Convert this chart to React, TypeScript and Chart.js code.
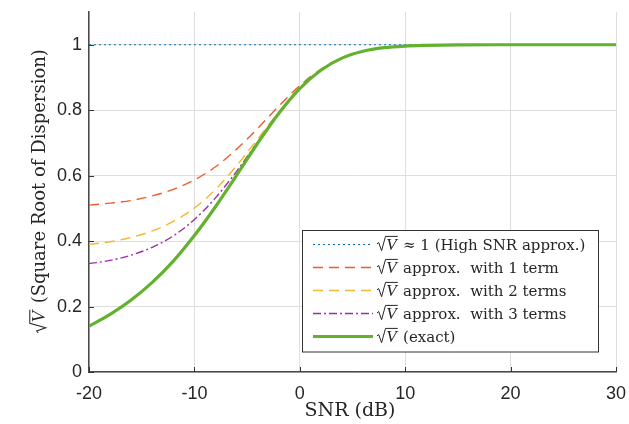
import React, { useEffect, useRef } from "react";
import { Chart, registerables } from "chart.js";

Chart.register(...registerables);

const snrDb = [-20, -18, -16, -14, -12, -10, -8, -6, -4, -2, 0, 2, 4, 6, 8, 10, 12, 15, 20, 25, 30];
const exactVals = [0.140, 0.176, 0.220, 0.274, 0.339, 0.417, 0.505, 0.601, 0.699, 0.790, 0.866, 0.922, 0.959, 0.980, 0.991, 0.996, 0.998, 0.9995, 1.0, 1.0, 1.0];
const approx1 = [0.510, 0.516, 0.524, 0.538, 0.558, 0.587, 0.627, 0.681, 0.744, 0.812, 0.875, 0.925, 0.960, 0.980, 0.991, 0.996, 0.998, 0.9995, 1.0, 1.0, 1.0];
const approx2 = [0.390, 0.398, 0.411, 0.431, 0.460, 0.501, 0.558, 0.630, 0.712, 0.794, 0.867, 0.922, 0.959, 0.980, 0.991, 0.996, 0.998, 0.9995, 1.0, 1.0, 1.0];
const approx3 = [0.331, 0.341, 0.357, 0.381, 0.416, 0.466, 0.532, 0.613, 0.703, 0.791, 0.866, 0.922, 0.959, 0.980, 0.991, 0.996, 0.998, 0.9995, 1.0, 1.0, 1.0];
const highSnr = snrDb.map(() => 1);
const xTicks = [-20, -10, 0, 10, 20, 30];
const yTicks = [0, 0.2, 0.4, 0.6, 0.8, 1];
const legendLabels = ["\u2248 1 (High SNR approx.)", "approx.  with 1 term", "approx.  with 2 terms", "approx.  with 3 terms", "(exact)"];

const COLORS = ["#0072BD", "#EF5B2B", "#F2B732", "#9B2FA8", "#62B22F"];
const DASHES: number[][] = [[2, 3], [10, 6], [10, 6], [8, 3, 2, 3], []];
const WIDTHS = [1.2, 1.4, 1.4, 1.4, 3.2];

const SERIF = '"DejaVu Serif", "Liberation Serif", serif';
const SANS = '"Liberation Sans", Arial, sans-serif';

function drawSqrtV(ctx: CanvasRenderingContext2D, x: number, y0: number, f: number, color: string): number {
  ctx.save();
  ctx.strokeStyle = color;
  ctx.fillStyle = color;
  ctx.lineWidth = Math.max(1, 0.055 * f);
  ctx.font = `italic ${f}px "Liberation Serif", serif`;
  const vw = ctx.measureText("V").width;
  const top = y0 - 0.8 * f;
  ctx.beginPath();
  ctx.moveTo(x, y0 - 0.36 * f);
  ctx.lineTo(x + 0.1 * f, y0 - 0.44 * f);
  ctx.lineTo(x + 0.27 * f, y0 + 0.04 * f);
  ctx.lineTo(x + 0.5 * f, top);
  ctx.lineTo(x + 0.56 * f + vw + 0.05 * f, top);
  ctx.stroke();
  ctx.textBaseline = "alphabetic";
  ctx.textAlign = "left";
  ctx.fillText("V", x + 0.54 * f, y0);
  ctx.restore();
  return 0.56 * f + vw + 0.08 * f;
}

const overlayPlugin = {
  id: "overlay",
  afterDatasetsDraw(chart: any) {
    const ctx: CanvasRenderingContext2D = chart.ctx;
    const xs = chart.scales.x;
    const ys = chart.scales.y;
    const area = chart.chartArea;
    ctx.save();
    // inward tick marks
    ctx.strokeStyle = "#333";
    ctx.lineWidth = 1;
    ctx.beginPath();
    xTicks.forEach((t) => {
      const px = Math.round(xs.getPixelForValue(t)) + 0.5;
      ctx.moveTo(px, area.bottom);
      ctx.lineTo(px, area.bottom - 5);
    });
    yTicks.forEach((t) => {
      const py = Math.round(ys.getPixelForValue(t)) + 0.5;
      ctx.moveTo(area.left, py);
      ctx.lineTo(area.left + 5, py);
    });
    ctx.stroke();

    // x-axis title
    ctx.fillStyle = "#262626";
    ctx.font = `19px ${SERIF}`;
    ctx.textAlign = "center";
    ctx.textBaseline = "alphabetic";
    ctx.fillText("SNR (dB)", 350, 416);

    // y-axis title
    ctx.save();
    ctx.translate(45, 191);
    ctx.rotate(-Math.PI / 2);
    ctx.font = `18px ${SERIF}`;
    const rest = " (Square Root of Dispersion)";
    const restW = ctx.measureText(rest).width;
    ctx.font = `italic 19px "Liberation Serif", serif`;
    const sqW = 0.64 * 19 + ctx.measureText("V").width;
    const sx = -(restW + sqW) / 2;
    const w = drawSqrtV(ctx, sx, 0, 19, "#262626");
    ctx.fillStyle = "#262626";
    ctx.font = `18px ${SERIF}`;
    ctx.textAlign = "left";
    ctx.fillText(rest, sx + w, 0);
    ctx.restore();

    // legend
    const bx = 302.5, by = 230.5, bw = 296, bh = 121.5;
    ctx.fillStyle = "#fff";
    ctx.fillRect(bx, by, bw, bh);
    ctx.strokeStyle = "#333";
    ctx.lineWidth = 1;
    ctx.strokeRect(bx, by, bw, bh);
    const rows = [244.5, 267.5, 290.5, 313.5, 336.5];
    rows.forEach((ry, i) => {
      ctx.save();
      ctx.strokeStyle = COLORS[i];
      ctx.lineWidth = WIDTHS[i];
      ctx.setLineDash(DASHES[i]);
      ctx.beginPath();
      ctx.moveTo(313, ry);
      ctx.lineTo(373, ry);
      ctx.stroke();
      ctx.restore();
      const base = ry + 5.5;
      const ww = drawSqrtV(ctx, 377, base, 17, "#262626");
      ctx.fillStyle = "#262626";
      ctx.font = `15px ${SERIF}`;
      ctx.textAlign = "left";
      ctx.textBaseline = "alphabetic";
      ctx.fillText(" " + legendLabels[i], 377 + ww, base);
    });
    ctx.restore();
  },
};

export default function App() {
  const ref = useRef<HTMLCanvasElement>(null);
  useEffect(() => {
    document.body.style.margin = "0";
    const mk = (vals: number[]) => snrDb.map((x, i) => ({ x, y: vals[i] }));
    const series = [highSnr, approx1, approx2, approx3, exactVals];
    const chart = new Chart(ref.current as HTMLCanvasElement, {
      type: "line",
      data: {
        datasets: series.map((vals, i) => ({
          label: legendLabels[i],
          data: mk(vals),
          borderColor: COLORS[i],
          borderWidth: WIDTHS[i],
          borderDash: DASHES[i],
          pointRadius: 0,
          fill: false,
          cubicInterpolationMode: "monotone" as const,
          order: 4 - i,
        })),
      },
      options: {
        animation: false,
        responsive: false,
        devicePixelRatio: 1,
        layout: { padding: { top: 12, right: 13, left: 0, bottom: 0 } },
        plugins: { legend: { display: false }, tooltip: { enabled: false } },
        scales: {
          x: {
            type: "linear",
            min: -20,
            max: 30,
            afterBuildTicks: (s: any) => {
              s.ticks = xTicks.map((v) => ({ value: v }));
            },
            afterFit: (s: any) => {
              s.height = 52;
              s.paddingLeft = 0;
              s.paddingRight = 0;
            },
            ticks: {
              font: { family: SANS, size: 18 },
              color: "#262626",
              padding: 11,
              maxRotation: 0,
              callback: (v: any) => String(v),
            },
            grid: { color: "#dedede", lineWidth: 1, drawTicks: false },
            border: { color: "#4a4a4a", width: 1.5 },
          },
          y: {
            type: "linear",
            min: 0,
            max: 1.1,
            afterBuildTicks: (s: any) => {
              s.ticks = yTicks.map((v) => ({ value: v }));
            },
            afterFit: (s: any) => {
              s.width = 89;
              s.paddingTop = 0;
              s.paddingBottom = 0;
            },
            ticks: {
              font: { family: SANS, size: 18 },
              color: "#262626",
              padding: 7,
              callback: (v: any) => String(Math.round(Number(v) * 10) / 10),
            },
            grid: { color: "#dedede", lineWidth: 1, drawTicks: false },
            border: { color: "#4a4a4a", width: 1.5 },
          },
        },
      },
      plugins: [overlayPlugin],
    });
    return () => chart.destroy();
  }, []);
  return (
    <div style={{ position: "fixed", left: 0, top: 0, width: 629, height: 424, background: "#fff" }}>
      <canvas ref={ref} width={629} height={424} style={{ width: 629, height: 424 }} />
    </div>
  );
}
